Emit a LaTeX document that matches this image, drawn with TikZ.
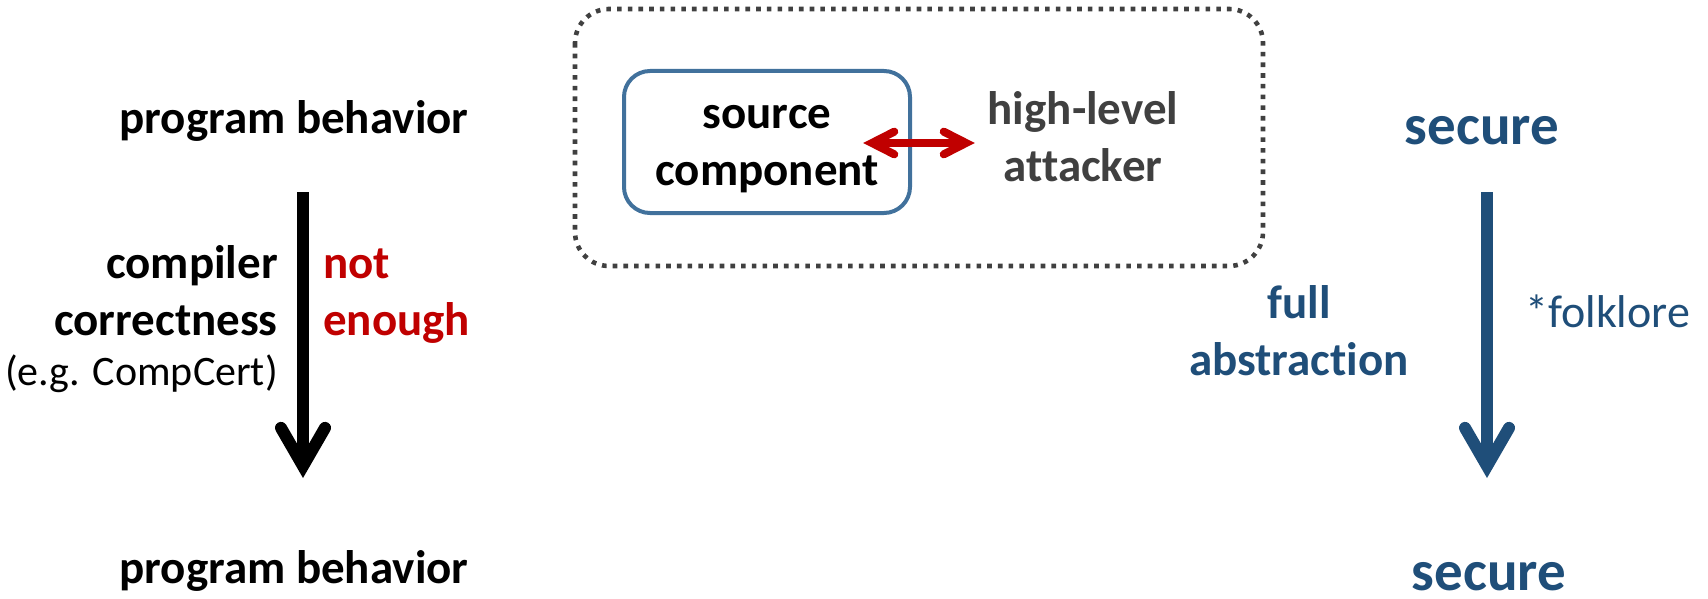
\documentclass[tikz,border=0pt]{standalone}
\usepackage{fontspec}
\setmainfont{Carlito}[Ligatures={NoCommon}]
\usetikzlibrary{calc}
\definecolor{darkred}{HTML}{C00000}
\definecolor{darkgrey}{HTML}{404040}
\definecolor{boxblue}{HTML}{41719C}
\definecolor{secblue}{HTML}{1F4E79}
\def\chevron[#1](#2)(#3:#4:#5){\draw[#1] ($(#2)+(#3+#4:#5)$) -- (#2) -- ($(#2)+(#3-#4:#5)$);}
\tikzset{
  lbl/.style={font=\fontsize{47}{57}\selectfont\bfseries, inner sep=0pt, align=center},
  sec/.style={font=\fontsize{57}{68}\selectfont\bfseries, text=secblue, inner sep=0pt},
  note/.style={font=\fontsize{42}{50}\selectfont, inner sep=0pt},
  shaft/.style={line width=12pt},
  head/.style={line width=12pt, line cap=round, line join=miter},
  srcbox/.style={draw=boxblue, line width=4pt, rounded corners=26pt, minimum width=286pt, minimum height=142pt, text height=86pt, text depth=0pt},
  dotbox/.style={draw=darkgrey, line width=4.6pt, dash pattern=on 4.6pt off 6.1pt, rounded corners=34pt},
}

\begin{document}
\begin{tikzpicture}[x=1pt, y=-1pt]
		%%%%% START %%%%%
		\useasboundingbox (0, 0) rectangle (1708, 599);
		
		% left: correctness
		\node[lbl, anchor=base] (pbTop) at (294, 134) {program behavior};
		\node[lbl, anchor=base] (pbBot) at (294, 583) {program behavior};
		\node[lbl, anchor=base east, align=right] (cc) at (278, 335) {compiler\\correctness};
		\node[note, anchor=base east] (cert) at (278, 385) {(e.g. CompCert)};
		\node[lbl, anchor=base west, align=left, text=darkred] (nope) at (323, 335) {not\\enough};
		
		\coordinate (ccTop) at (303, 192);
		\coordinate (ccTip) at (303, 466);
		\draw[shaft] (ccTop) -- (ccTip);
		\chevron[head](ccTip)(-90:30:44);
		
		% middle: source component and attacker
		\draw[dotbox] (575, 9) rectangle (1263, 266);
		\node[lbl, srcbox] (src) at (767, 142) {source\\component};
		\node[lbl, anchor=base, text=darkgrey] (atk) at (1083, 182) {high-level\\attacker};
		
		\coordinate (ioL) at (872, 143);
		\coordinate (ioR) at (966, 143);
		\draw[line width=8pt, darkred] (ioL) -- (ioR);
		\chevron[head, line width=8pt, darkred](ioL)(0:27:25);
		\chevron[head, line width=8pt, darkred](ioR)(180:27:25);
		
		% right: security
		\node[sec, anchor=base] (secTop) at (1482, 145) {secure};
		\node[sec, anchor=base] (secBot) at (1489, 590) {secure};
		\node[lbl, anchor=base, text=secblue] (fa) at (1299, 375) {full\\abstraction};
		\node[note, anchor=base west, text=secblue, font=\fontsize{46}{55}\selectfont] (folk) at (1525, 327) {*folklore};
		
		\coordinate (saTop) at (1487, 192);
		\coordinate (saTip) at (1487, 466);
		\draw[shaft, secblue] (saTop) -- (saTip);
		\chevron[head, secblue](saTip)(-90:30:44);
		%%%%% END %%%%%
\end{tikzpicture}
\end{document}
